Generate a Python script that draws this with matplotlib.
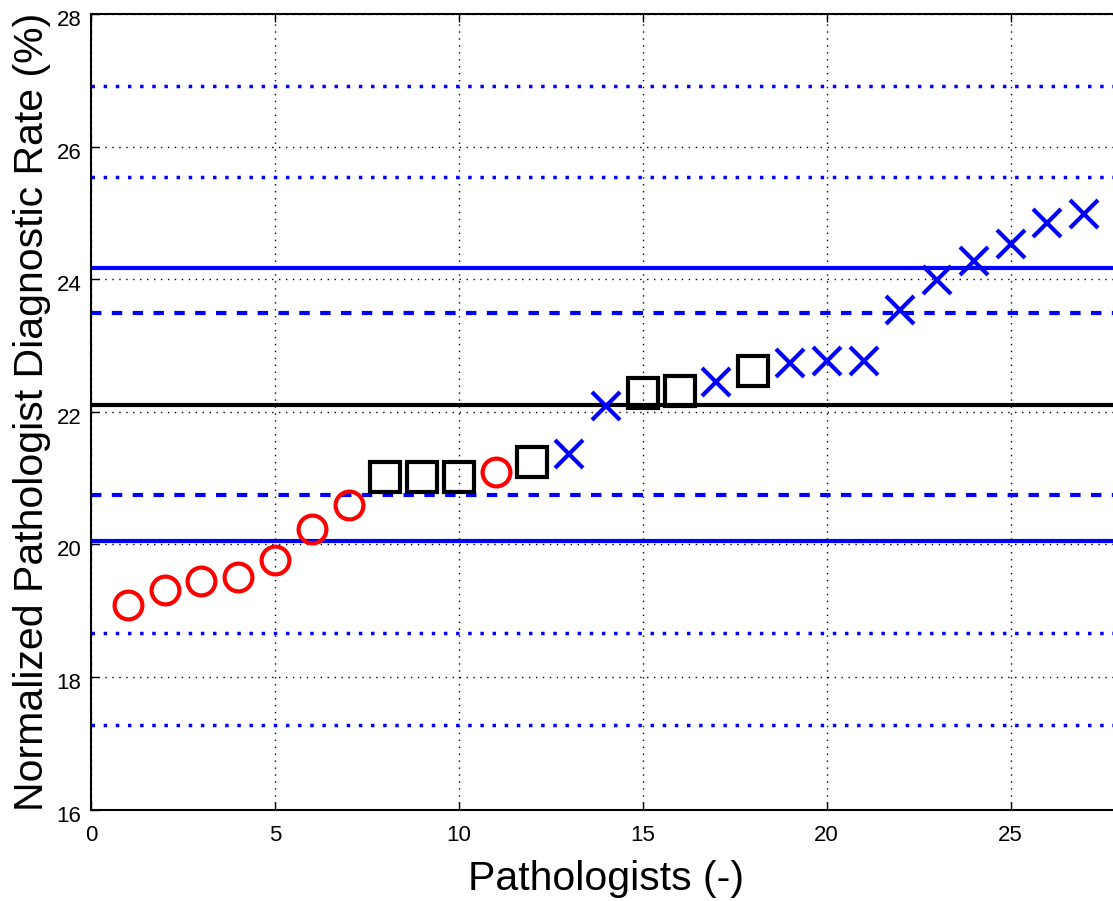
import matplotlib
matplotlib.use("Agg")
import matplotlib.pyplot as plt
from matplotlib.transforms import ScaledTranslation

plt.rcParams['font.family'] = ['Liberation Sans', 'DejaVu Sans']

# Data
circle_x = [1, 2, 3, 4, 5, 6, 7, 11]
circle_y = [19.08, 19.31, 19.44, 19.50, 19.76, 20.23, 20.59, 21.09]
square_x = [8, 9, 10, 12, 15, 16, 18]
square_y = [21.01, 21.01, 21.01, 21.24, 22.28, 22.32, 22.61]
cross_x = [13, 14, 17, 19, 20, 21, 22, 23, 24, 25, 26, 27]
cross_y = [21.36, 22.08, 22.45, 22.73, 22.76, 22.76, 23.53, 23.98, 24.27, 24.53, 24.85, 24.98]

mean_rate = 22.10
solid_limits = [20.05, 24.17]
dashed_limits = [20.74, 23.49]
dotted_limits = [17.28, 18.67, 25.54, 26.91]

xticks = [0, 5, 10, 15, 20, 25]
yticks = [16, 18, 20, 22, 24, 26, 28]

fig = plt.figure(figsize=(11.13, 9.01), dpi=100)
W, H = 1113, 901
x0, x1 = 91, 1121
y0, y1 = 14, 809.5
ax = fig.add_axes([x0 / W, 1 - y1 / H, (x1 - x0) / W, (y1 - y0) / H])
ax.set_xlim(0, 28)
ax.set_ylim(16, 28)

ax.grid(True, color='black', linestyle=(0, (1, 4)), linewidth=1.0)
ax.set_axisbelow(True)

ax.axhline(mean_rate, color='black', linewidth=3)
for v in solid_limits:
    ax.axhline(v, color='blue', linewidth=3)
for v in dashed_limits:
    ax.axhline(v, color='blue', linewidth=3, linestyle=(0, (2.5, 2.5)))
for v in dotted_limits:
    ax.axhline(v, color='blue', linewidth=2.5, linestyle=(0, (1, 2.5)))

ax.plot(circle_x, circle_y, 'o', markersize=20, markerfacecolor='none',
        markeredgecolor='red', markeredgewidth=3, linestyle='none')
ax.plot(square_x, square_y, 's', markersize=21, markerfacecolor='none',
        markeredgecolor='black', markeredgewidth=3, linestyle='none')
ax.plot(cross_x, cross_y, 'x', markersize=20, markeredgecolor='blue',
        markeredgewidth=3, linestyle='none')

ax.set_xticks(xticks)
ax.set_yticks(yticks)
ax.tick_params(direction='in', top=True, right=True, labelsize=16, length=6, width=1)
ax.tick_params(axis='x', pad=11)
ax.tick_params(axis='y', pad=7)
ax.set_xlabel('Pathologists (-)', fontsize=29.5, labelpad=10)
ax.set_ylabel('Normalized Pathologist Diagnostic Rate (%)', fontsize=29.5, labelpad=4)
for s in ax.spines.values():
    s.set_linewidth(1.5)

off = ScaledTranslation(0, -4 / 100, fig.dpi_scale_trans)
for lab in ax.get_yticklabels():
    lab.set_transform(lab.get_transform() + off)

fig.savefig('out.png', dpi=100)
